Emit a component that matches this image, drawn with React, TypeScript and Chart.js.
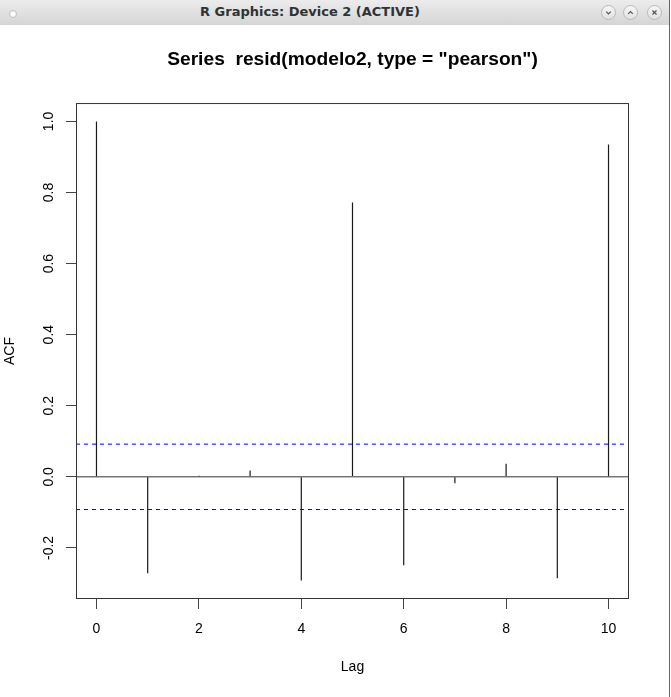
import React, { useEffect, useRef } from "react";
import { Chart, registerables } from "chart.js";

Chart.register(...registerables);

// ---- data ----
const lags = [0, 1, 2, 3, 4, 5, 6, 7, 8, 9, 10];
const acfValues = [1.0, -0.271, 0.003, 0.018, -0.292, 0.772, -0.249, -0.018, 0.037, -0.285, 0.935];
const ciBound = 0.092;
const xTickValues = [0, 2, 4, 6, 8, 10];
const yTickValues = [-0.2, 0.0, 0.2, 0.4, 0.6, 0.8, 1.0];
const xRange = [-0.4, 10.4];
const yRange = [-0.3437, 1.0517];
const plotTitle = 'Series  resid(modelo2, type = "pearson")';
const xLabel = "Lag";
const yLabel = "ACF";
const windowTitle = "R Graphics: Device 2 (ACTIVE)";

const W = 671;
const H = 697;

const boxPlugin = {
  id: "rbox",
  afterDraw(chart: any) {
    const { ctx, chartArea } = chart;
    ctx.save();
    ctx.strokeStyle = "#333";
    ctx.lineWidth = 1;
    ctx.strokeRect(
      chartArea.left + 0.5,
      chartArea.top + 0.5,
      chartArea.right - chartArea.left - 1,
      chartArea.bottom - chartArea.top - 1
    );
    ctx.restore();
  },
};

function RChart() {
  const ref = useRef<HTMLCanvasElement | null>(null);
  useEffect(() => {
    if (!ref.current) return;
    const font14 = { family: "'Liberation Sans', Arial, sans-serif", size: 14 };
    const hline = (y: number) => [
      { x: xRange[0], y },
      { x: xRange[1], y },
    ];
    const chart = new Chart(ref.current, {
      type: "bar",
      data: {
        datasets: [
          {
            type: "bar",
            data: lags.map((l, i) => ({ x: l, y: acfValues[i] })),
            backgroundColor: "#1a1a1a",
            borderWidth: 0,
            barThickness: 1.2,
            inflateAmount: 0,
          } as any,
          {
            type: "line",
            data: hline(0),
            borderColor: "#333",
            borderWidth: 1,
            pointRadius: 0,
          } as any,
          {
            type: "line",
            data: hline(ciBound),
            borderColor: "#0000ff",
            borderWidth: 1,
            borderDash: [4, 4],
            pointRadius: 0,
          } as any,
          {
            type: "line",
            data: hline(-ciBound),
            borderColor: "#0000ff",
            borderWidth: 1,
            borderDash: [4, 4],
            pointRadius: 0,
          } as any,
        ],
      },
      options: {
        animation: false,
        responsive: false,
        maintainAspectRatio: false,
        events: [],
        layout: { padding: { left: 0, right: 42, top: 0, bottom: 0 } },
        plugins: {
          legend: { display: false },
          tooltip: { enabled: false },
          title: {
            display: true,
            fullSize: false,
            text: plotTitle,
            color: "#000",
            font: { family: "'Liberation Sans', Arial, sans-serif", size: 19.2, weight: "bold" },
            padding: { top: 48, bottom: 32 },
          },
        },
        scales: {
          x: {
            type: "linear",
            min: xRange[0],
            max: xRange[1],
            offset: false,
            afterBuildTicks: (s: any) => {
              s.ticks = xTickValues.map((v) => ({ value: v }));
            },
            afterFit: (s: any) => {
              s.height = H - 599;
            },
            grid: { display: true, offset: false, drawOnChartArea: false, drawTicks: true, tickLength: 10, tickColor: "#444", lineWidth: 1 },
            border: { display: false },
            ticks: {
              color: "#000",
              font: font14,
              padding: 12,
              autoSkip: false,
              maxRotation: 0,
              minRotation: 0,
              callback: (v: any) => String(v),
            },
            title: {
              display: true,
              text: xLabel,
              color: "#000",
              font: font14,
              padding: { top: 0, bottom: 21.3 },
            },
          },
          y: {
            type: "linear",
            min: yRange[0],
            max: yRange[1],
            afterBuildTicks: (s: any) => {
              s.ticks = yTickValues.map((v) => ({ value: v }));
            },
            afterFit: (s: any) => {
              s.width = 76;
            },
            grid: { display: true, drawOnChartArea: false, drawTicks: true, tickLength: 10, tickColor: "#444", lineWidth: 1 },
            border: { display: false },
            ticks: {
              color: "#000",
              font: font14,
              padding: 4.6,
              autoSkip: false,
              minRotation: 90,
              maxRotation: 90,
              crossAlign: "center",
              callback: (v: any) => Number(v).toFixed(1),
            },
            title: {
              display: true,
              text: yLabel,
              color: "#000",
              font: font14,
              padding: { top: 1.6, bottom: 0 },
            },
          },
        },
      } as any,
      plugins: [boxPlugin],
    });
    return () => chart.destroy();
  }, []);
  return <canvas ref={ref} width={W} height={H} style={{ position: "absolute", left: 0, top: 0, width: W, height: H }} />;
}

function WinButton({ cx, kind }: { cx: number; kind: "down" | "up" | "close" }) {
  const path =
    kind === "down" ? "M4.5 6 L7 8.5 L9.5 6" : kind === "up" ? "M4.5 8.5 L7 6 L9.5 8.5" : "M4.8 4.8 L9.2 9.2 M9.2 4.8 L4.8 9.2";
  return (
    <div
      style={{
        position: "absolute",
        left: cx - 7.5,
        top: 5,
        width: 15,
        height: 15,
        borderRadius: "50%",
        boxSizing: "border-box",
        border: "1px solid #b9b9b9",
        background: "linear-gradient(#f6f6f6, #e2e2e2)",
      }}
    >
      <svg width={13} height={13} viewBox="0 0 14 14" style={{ position: "absolute", left: 0, top: 0 }}>
        <path d={path} stroke="#555" strokeWidth={1.3} fill="none" />
      </svg>
    </div>
  );
}

export default function App() {
  return (
    <div style={{ position: "fixed", left: 0, top: 0, width: W, height: H, background: "#fff", overflow: "hidden" }}>
      <RChart />
      <div
        style={{
          position: "absolute",
          left: 0,
          top: 0,
          width: 669,
          height: 25,
          background: "linear-gradient(#ececec, #d5d5d5)",
        }}
      >
        <div
          style={{
            position: "absolute",
            left: 9,
            top: 10,
            width: 8,
            height: 8,
            borderRadius: "50%",
            boxSizing: "border-box",
            border: "1px solid #bdbdbd",
            background: "#fafafa",
          }}
        />
        <div
          style={{
            position: "absolute",
            left: 0,
            top: 0,
            width: 620,
            height: 23,
            lineHeight: "23px",
            textAlign: "center",
            fontFamily: "'DejaVu Sans', sans-serif",
            fontWeight: "bold",
            fontSize: 13,
            color: "#2e3436",
            whiteSpace: "nowrap",
          }}
        >
          {windowTitle}
        </div>
        <WinButton cx={608.5} kind="down" />
        <WinButton cx={630.5} kind="up" />
        <WinButton cx={654.5} kind="close" />
      </div>
      <div style={{ position: "absolute", left: 669, top: 0, width: 1, height: H, background: "#666" }} />
    </div>
  );
}
